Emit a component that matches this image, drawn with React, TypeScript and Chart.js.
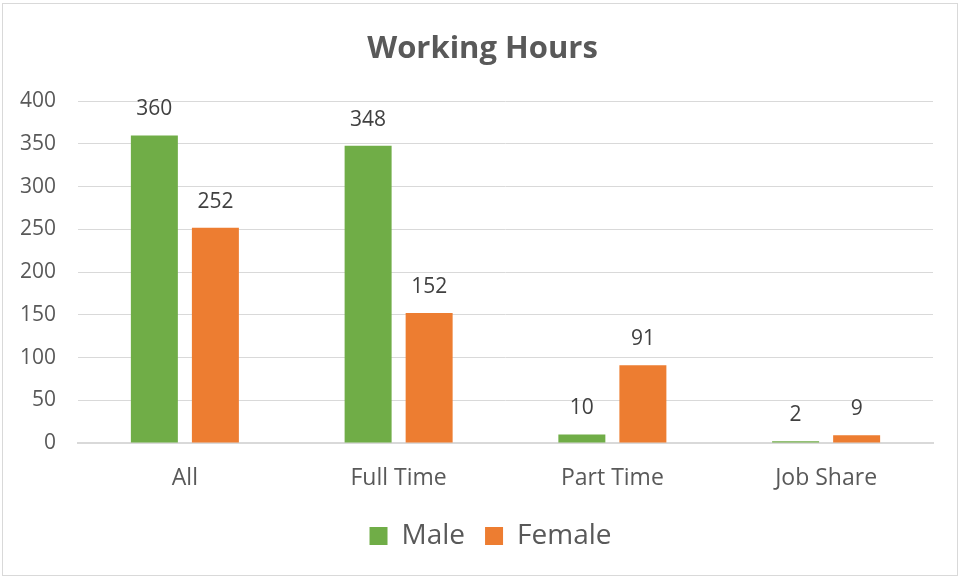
import React, { useEffect, useRef } from "react";
import { Chart, registerables } from "chart.js";

Chart.register(...registerables);

const categories = ["All", "Full Time", "Part Time", "Job Share"];
const maleValues = [360, 348, 10, 2];
const femaleValues = [252, 152, 91, 9];
const seriesNames = ["Male", "Female"];
const yTicks = [0, 50, 100, 150, 200, 250, 300, 350, 400];
const chartTitle = "Working Hours";

const FONT = "'Open Sans', 'Noto Sans', sans-serif";

const dataLabelPlugin = {
  id: "dataLabels",
  afterDatasetsDraw(chart: any) {
    const ctx = chart.ctx;
    ctx.save();
    ctx.font = `21px ${FONT}`;
    ctx.fillStyle = "#404040";
    ctx.textAlign = "center";
    ctx.textBaseline = "middle";
    chart.data.datasets.forEach((ds: any, i: number) => {
      const meta = chart.getDatasetMeta(i);
      meta.data.forEach((el: any, j: number) => {
        ctx.fillText(String(ds.data[j]), el.x, el.y - 26);
      });
    });
    ctx.restore();
  },
};

// Center title and legend on the whole canvas, like the original
const recenterPlugin = {
  id: "recenter",
  afterLayout(chart: any) {
    const shift = (box: any, dx: number) => {
      if (!box) return;
      box.left += dx;
      box.right += dx;
    };
    shift(chart.titleBlock, 16);
    shift(chart.legend, 24);
  },
};

export default function App() {
  const ref = useRef<HTMLCanvasElement>(null);
  useEffect(() => {
    if (!ref.current) return;
    const chart = new Chart(ref.current, {
      type: "bar",
      data: {
        labels: categories,
        datasets: [
          {
            label: seriesNames[0],
            data: maleValues,
            backgroundColor: "#70AD47",
            barPercentage: 0.77,
            categoryPercentage: 0.571,
          },
          {
            label: seriesNames[1],
            data: femaleValues,
            backgroundColor: "#ED7D31",
            barPercentage: 0.77,
            categoryPercentage: 0.571,
          },
        ],
      },
      options: {
        animation: false,
        responsive: false,
        maintainAspectRatio: false,
        layout: { padding: { left: 0, right: 28, top: 0, bottom: 18 } },
        plugins: {
          tooltip: { enabled: false },
          title: {
            display: true,
            text: chartTitle,
            color: "#595959",
            font: { family: FONT, size: 31, weight: "bold" },
            padding: { top: 31, bottom: 33 },
          },
          legend: {
            position: "bottom",
            labels: {
              boxWidth: 18,
              boxHeight: 18,
              padding: 20,
              color: "#595959",
              font: { family: FONT, size: 28 },
            },
          },
        },
        scales: {
          x: {
            grid: { display: false, drawTicks: false },
            border: { display: true, color: "#d9d9d9", width: 2 },
            ticks: {
              color: "#595959",
              font: { family: FONT, size: 23 },
              padding: 22,
            },
            afterFit(scale: any) {
              scale.height = 59;
            },
          },
          y: {
            min: 0,
            max: 400,
            afterBuildTicks(scale: any) {
              scale.ticks = yTicks.map((v) => ({ value: v }));
            },
            grid: { color: "#d9d9d9", lineWidth: 1, drawTicks: false },
            border: { display: false },
            ticks: {
              color: "#595959",
              font: { family: FONT, size: 21 },
              padding: 22,
            },
            afterFit(scale: any) {
              scale.width = 78;
            },
          },
        },
      },
      plugins: [dataLabelPlugin, recenterPlugin],
    });
    return () => chart.destroy();
  }, []);

  return (
    <div
      style={{
        position: "fixed",
        left: 0,
        top: 0,
        width: 961,
        height: 578,
        background: "#fff",
      }}
    >
      <canvas
        ref={ref}
        width={961}
        height={578}
        style={{ position: "absolute", left: 0, top: 0, width: 961, height: 578 }}
      />
      <div
        style={{
          position: "absolute",
          left: 2,
          top: 3,
          width: 954,
          height: 571,
          border: "1px solid #d9d9d9",
          pointerEvents: "none",
        }}
      />
    </div>
  );
}
